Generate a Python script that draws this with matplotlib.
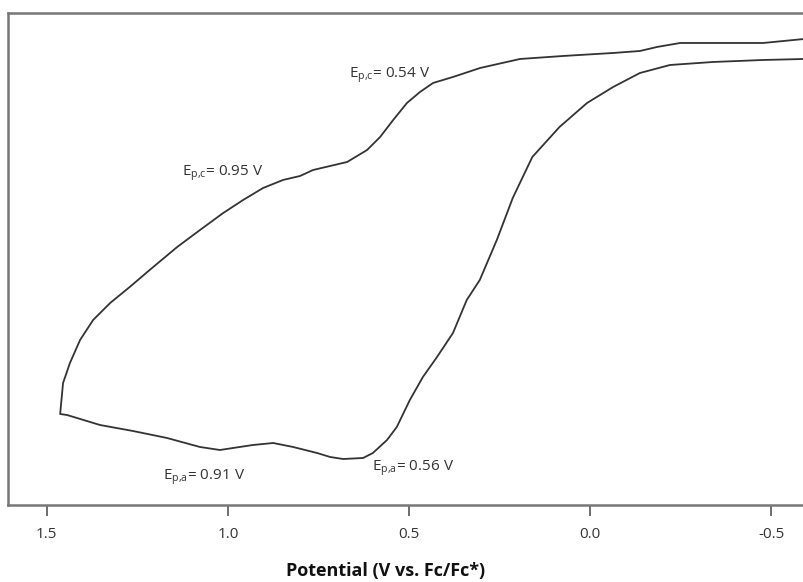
import numpy as np
import matplotlib.pyplot as plt

plt.rcParams['font.family'] = ['Open Sans', 'DejaVu Sans']
plt.rcParams['mathtext.fontset'] = 'custom'
plt.rcParams['mathtext.rm'] = 'Open Sans'

# cyclic voltammogram, current in arbitrary units
# upper (cathodic) branch, from the switching point to the right
pot_up = [1.463, 1.455, 1.436, 1.408, 1.372, 1.325, 1.271, 1.216, 1.140, 1.077,
          1.013, 0.958, 0.903, 0.848, 0.801, 0.765, 0.671, 0.616, 0.580, 0.544,
          0.506, 0.470, 0.434, 0.379, 0.304, 0.194, 0.075, -0.063, -0.137,
          -0.184, -0.248, -0.339, -0.477, -0.590]
cur_up = [91, 122, 142, 165, 185, 202, 218, 235, 258, 275,
          292, 305, 317, 325, 329, 335, 343, 355, 368, 385,
          402, 413, 422, 428, 437, 446, 449, 452, 454,
          458, 462, 462, 462, 466]

# lower (anodic) branch, from the switching point to the right
pot_lo = [1.463, 1.444, 1.353, 1.262, 1.168, 1.077, 1.022, 0.986, 0.931, 0.875,
          0.820, 0.754, 0.718, 0.682, 0.627, 0.600, 0.561, 0.534, 0.498, 0.462,
          0.423, 0.379, 0.341, 0.305, 0.258, 0.214, 0.160, 0.085, 0.009,
          -0.063, -0.137, -0.220, -0.339, -0.477, -0.590]
cur_lo = [91, 90, 80, 74, 67, 58, 55, 57, 60, 62,
          58, 52, 48, 46, 47, 52, 65, 78, 105, 128,
          148, 172, 205, 225, 265, 307, 348, 378, 402,
          418, 432, 440, 443, 445, 446]

ticks = [1.5, 1.0, 0.5, 0.0, -0.5]
tick_labels = ['1.5', '1.0', '0.5', '0.0', '-0.5']

fig = plt.figure(figsize=(8.04, 5.82), dpi=100)
ax = fig.add_axes([0.01, 0.1323, 0.99, 0.8454])

ax.plot(pot_up[::-1] + pot_lo, cur_up[::-1] + cur_lo, color='#333333', lw=1.3,
        solid_joinstyle='round')

ax.set_xlim(1.6068, -0.5897)
ax.set_ylim(0, 492)
ax.set_xticks(ticks)
ax.set_xticklabels(tick_labels)
ax.set_yticks([])
ax.tick_params(axis='x', direction='out', length=8, width=1.2, color='#555555',
               labelsize=11, labelcolor='#333333', pad=8)
for s in ['left', 'top', 'bottom']:
    ax.spines[s].set_color('#777777')
    ax.spines[s].set_linewidth(1.8)
ax.spines['right'].set_visible(False)

lbl = dict(fontsize=11, color='#333333', va='center')
ax.text(1.128, 332, r'E$_\mathregular{p{,}c}$= 0.95 V', **lbl)
ax.text(0.665, 430, r'E$_\mathregular{p{,}c}$= 0.54 V', **lbl)
ax.text(1.180, 28, r'E$_\mathregular{p{,}a}$= 0.91 V', **lbl)
ax.text(0.603, 37, r'E$_\mathregular{p{,}a}$= 0.56 V', **lbl)

fig.text(386 / 804, 6 / 582, 'Potential (V vs. Fc/Fc*)', ha='center', va='baseline',
         fontsize=13, fontweight='bold', color='#111111')

fig.savefig('out.png', dpi=100)
